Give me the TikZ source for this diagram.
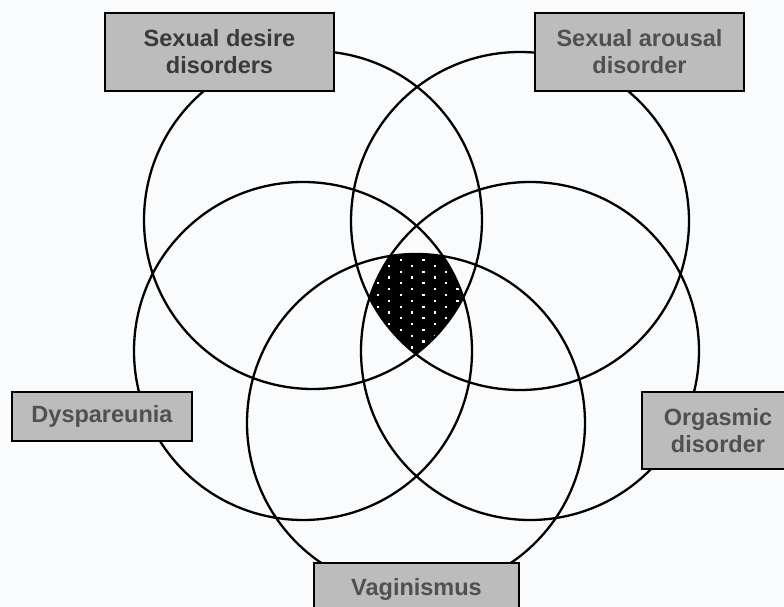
\documentclass[tikz,border=0pt]{standalone}
\usepackage{fontspec}
\setmainfont{Liberation Sans}
\usepackage{xcolor}

\definecolor{paper}{RGB}{250,251,252}
\definecolor{boxgray}{RGB}{188,188,188}
\definecolor{labdark}{RGB}{58,58,58}
\definecolor{labgray}{RGB}{80,80,80}

\begin{document}
\begin{tikzpicture}[x=1pt,y=-1pt,
    ring/.style={draw=black, line width=2.3pt},
    labelbox/.style={draw=black, line width=2.4pt, fill=boxgray, text=labgray,
      font=\fontsize{23.5}{27}\selectfont\bfseries, align=center, inner sep=0pt}]
  % Canvas (pixel units, y pointing down)
  \useasboundingbox (0,0) rectangle (784,607);
  \fill[paper] (0,0) rectangle (784,607);
  \clip (0,0) rectangle (784,607);

  % Circle centres and radii
  \def\rad{169}
  \coordinate (desire)   at (313,220);
  \coordinate (arousal)  at (520,221);
  \coordinate (dyspar)   at (303,351);
  \coordinate (orgasm)   at (530,351);
  \coordinate (vagin)    at (416,423);

  % Common core: black with a staggered grid of white dots
  \begin{scope}
    \clip (desire)  circle[radius=\rad pt];
    \clip (arousal) circle[radius=\rad pt];
    \clip (dyspar)  circle[radius=\rad pt];
    \clip (orgasm)  circle[radius=\rad pt];
    \clip (vagin)   circle[radius=\rad pt];
    \fill[black] (340,230) rectangle (490,370);
    \foreach \i in {0,...,19} {
      \foreach \k in {0,...,5} {
        \pgfmathsetmacro{\dx}{355.3+11.35*mod(\i,2)+22.7*\k}
        \pgfmathsetmacro{\dy}{248.3+5.83*\i}
        \fill[white] (\dx-1.1,\dy-1.1) rectangle (\dx+1.1,\dy+1.1);
      }
    }
  \end{scope}

  % Circles
  \foreach \c in {desire,arousal,dyspar,orgasm,vagin}
    \draw[ring] (\c) circle[radius=\rad pt];

  % Labels (boxes hide the circle outlines)
  \node[labelbox, text=labdark, minimum width=229pt, minimum height=78pt]
    (desirebox) at (219.5,52) {Sexual desire\\disorders};
  \node[labelbox, minimum width=209pt, minimum height=78pt]
    (arousalbox) at (639.5,52) {Sexual arousal\\disorder};
  \node[labelbox, minimum width=180pt, minimum height=49pt]
    (dysparbox) at (102,416.5) {Dyspareunia};
  \node[labelbox, minimum width=152pt, minimum height=77pt]
    (orgasmbox) at (718,430.5) {Orgasmic\\disorder};
  \node[labelbox, minimum width=205pt, minimum height=52pt]
    (vaginbox) at (416.5,589) {Vaginismus};
\end{tikzpicture}
\end{document}
